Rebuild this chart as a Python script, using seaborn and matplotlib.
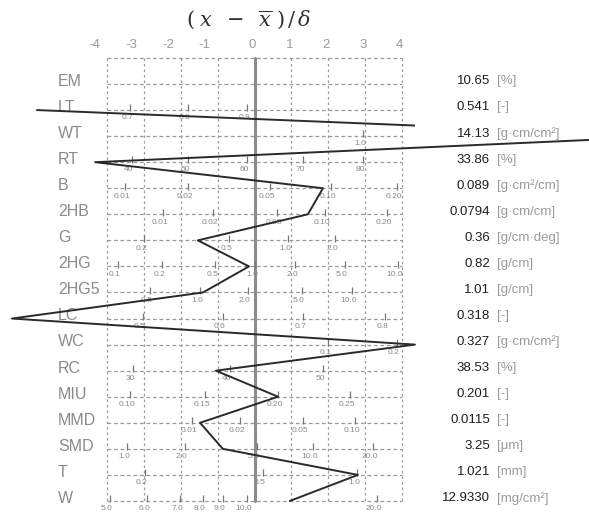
import numpy as np
import pandas as pd
import matplotlib
matplotlib.use("Agg")
import matplotlib.pyplot as plt
import matplotlib.transforms as mtransforms
from matplotlib.path import Path
import seaborn as sns

# ---------------- data ----------------
rows = ["EM", "LT", "WT", "RT", "B", "2HB", "G", "2HG", "2HG5", "LC",
        "WC", "RC", "MIU", "MMD", "SMD", "T", "W"]
values = ["10.65", "0.541", "14.13", "33.86", "0.089", "0.0794", "0.36", "0.82",
          "1.01", "0.318", "0.327", "38.53", "0.201", "0.0115", "3.25", "1.021",
          "12.9330"]
units = ["[%]", "[-]", "[g·cm/cm²]", "[%]", "[g·cm²/cm]", "[g·cm/cm]", "[g/cm·deg]",
         "[g/cm]", "[g/cm]", "[-]", "[g·cm/cm²]", "[%]", "[-]", "[-]", "[μm]", "[mm]",
         "[mg/cm²]"]
# standardized position (x - mean)/sd of each sample value
profile = [np.nan, -5.91, 11.4, -4.33, 1.86, 1.45, -1.54, -0.15, -1.40, -6.59,
           4.36, -1.05, 0.64, -1.48, -0.86, 2.81, 0.96]

# per-row scale ticks (labels and their standardized positions)
tick_labels = [
    [],
    ["0.7", "0.8", "0.9"],
    ["1.0"],
    ["40", "50", "60", "70", "80"],
    ["0.01", "0.02", "0.05", "0.10", "0.20"],
    ["0.01", "0.02", "0.05", "0.10", "0.20"],
    ["0.2", "0.5", "1.0", "2.0"],
    ["0.1", "0.2", "0.5", "1.0", "2.0", "5.0", "10.0"],
    ["0.5", "1.0", "2.0", "5.0", "10.0"],
    ["0.5", "0.6", "0.7", "0.8"],
    ["0.1", "0.2"],
    ["30", "40", "50"],
    ["0.10", "0.15", "0.20", "0.25"],
    ["0.01", "0.02", "0.05", "0.10"],
    ["1.0", "2.0", "5.0", "10.0", "20.0"],
    ["0.2", "0.5", "1.0"],
    ["5.0", "6.0", "7.0", "8.0", "9.0", "10.0", "20.0"],
]
tick_sigma = [
    [],
    [-3.38, -1.81, -0.20],
    [2.95],
    [-3.33, -1.81, -0.20, 1.32, 2.95],
    [-3.52, -1.81, 0.42, 2.08, 3.87],
    [-2.49, -1.13, 0.61, 1.92, 3.60],
    [-3.00, -0.69, 0.91, 2.19],
    [-3.71, -2.51, -1.07, 0.01, 1.10, 2.46, 3.90],
    [-2.84, -1.48, -0.18, 1.29, 2.65],
    [-3.03, -0.86, 1.32, 3.55],
    [2.00, 3.87],
    [-3.30, -0.67, 1.86],
    [-3.38, -1.35, 0.64, 2.60],
    [-1.70, -0.39, 1.32, 2.73],
    [-3.46, -1.89, 0.07, 1.59, 3.22],
    [-2.98, 0.23, 2.79],
    [-3.93, -2.92, -2.02, -1.40, -0.86, -0.20, 3.33],
]
sigma_ticks = [-4, -3, -2, -1, 0, 1, 2, 3, 4]

# ---------------- layout ----------------
W_PX, H_PX = 589, 513
X0_PX, UNIT_PX = 254.5, 36.8     # pixel of sigma=0, pixels per sigma
Y0_PX, ROW_PX = 84.0, 26.06      # pixel of first row, pixels per row

def sx(px):
    return (px - X0_PX) / UNIT_PX

sns.set_theme(style="white")
plt.rcParams["font.family"] = ["Liberation Sans", "DejaVu Sans"]
plt.rcParams["mathtext.fontset"] = "dejavuserif"

fig = plt.figure(figsize=(W_PX / 100, H_PX / 100), dpi=100)
ax = fig.add_axes([0, 0, 1, 1])
ax.set_xlim(sx(0), sx(W_PX))
ax.set_ylim((H_PX - Y0_PX) / ROW_PX, -Y0_PX / ROW_PX)
ax.axis("off")

n = len(rows)
row_idx = np.arange(n)
grid_c = "#9a9a9a"

# horizontal dashed lines (top border + each row)
for r in [-1] + list(row_idx):
    ax.plot([-4, 4], [r, r], color=grid_c, lw=0.9, ls=(0, (3, 2.2)), zorder=1)
# vertical dashed lines
for s in sigma_ticks:
    if s == 0:
        ax.plot([0, 0], [-1, n - 1], color="#8c8c8c", lw=2.2, zorder=2)
    else:
        ax.plot([s, s], [-1, n - 1], color=grid_c, lw=0.9, ls=(0, (2, 2.4)), zorder=1)

# top sigma labels
for s in sigma_ticks:
    off = -13 if s < 0 else -2
    tr = mtransforms.offset_copy(ax.transData, fig=fig, x=off, y=0, units="dots")
    ax.text(s, -1.5, str(s), transform=tr, ha="center", va="center",
            fontsize=9.5, color="#9a9a9a")

# title
ax.text(sx(249), -2.48, r"$(\;x\;\;-\;\;\overline{x}\;)\,/\,\delta$", ha="center",
        va="center", fontsize=15, color="#333333")

# per-row scales
for i in range(n):
    ts = tick_sigma[i]
    if ts:
        ax.vlines(ts, i - 0.22, i + 0.05, color="#777777", lw=0.9, zorder=3)
        tr = mtransforms.offset_copy(ax.transData, fig=fig, x=-3, y=0, units="dots")
        for lab, s in zip(tick_labels[i], ts):
            ax.text(s, i + 0.3, lab, transform=tr, ha="center", va="center",
                    fontsize=6, color="#8a8a8a", zorder=3)

# row names
for i, name in enumerate(rows):
    ax.text(sx(58), i - 0.1, name, ha="left", va="center", fontsize=11.5,
            color="#8a8a8a")

# profile line
df = pd.DataFrame({"sigma": profile, "row": row_idx}).dropna()
sns.lineplot(data=df, x="sigma", y="row", sort=False, estimator=None,
             color="#2a2a2a", lw=1.4, ax=ax, zorder=4)
line = ax.lines[-1]
clip = Path([(-8, -4), (4.36, -4), (4.36, 2.0), (14, 2.0), (14, 18), (-8, 18), (-8, -4)])
line.set_clip_path(clip, ax.transData)

# values and units
for i in range(n):
    ax.text(sx(490), i - 0.1, values[i], ha="right", va="center", fontsize=9.5,
            color="#1e1e1e", zorder=6,
            bbox=dict(fc="white", ec="none", pad=0.6))
    ax.text(sx(497), i - 0.1, units[i], ha="left", va="center", fontsize=9.5,
            color="#9a9a9a", zorder=3)

ax.set_xlabel("")
ax.set_ylabel("")
fig.savefig("out.png", dpi=100)
